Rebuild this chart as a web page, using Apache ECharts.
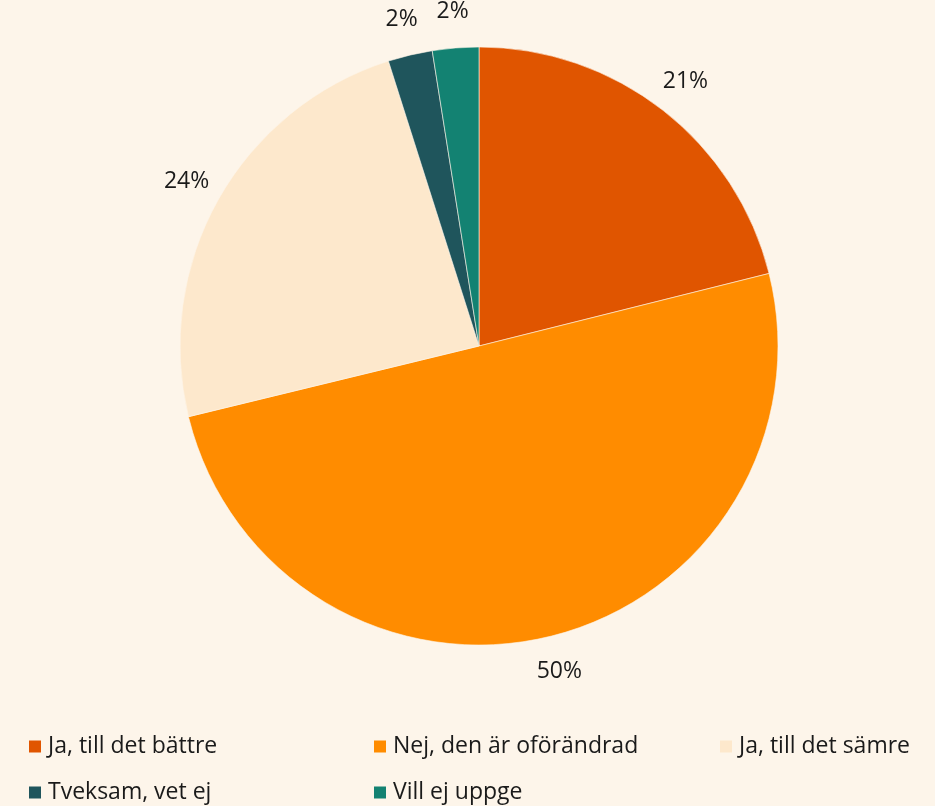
<!DOCTYPE html>
<html><head><meta charset="utf-8">
<script src="https://cdn.jsdelivr.net/npm/echarts@6/dist/echarts.min.js"></script>
<style>html,body{margin:0;padding:0;background:#FDF5EA;}#c{width:935px;height:806px;}</style>
</head><body><div id="c"></div>
<script>
const categories = ['Ja, till det bättre', 'Nej, den är oförändrad', 'Ja, till det sämre', 'Tveksam, vet ej', 'Vill ej uppge'];
const values = [21.1, 50.1, 23.9, 2.4, 2.5];
const labels = ['21%', '50%', '24%', '2%', '2%'];
const colors = ['#E05500', '#FF8C00', '#FDE8CC', '#1F555C', '#138272'];

const chart = echarts.init(document.getElementById('c'), null, {renderer: 'canvas'});
const font = '"Open Sans", Lato, sans-serif';
const pieData = categories.map((n, i) => ({name: n, value: values[i], itemStyle: {color: colors[i]}}));
const labelData = categories.map((n, i) => ({name: n, value: values[i], label: {formatter: labels[i]}}));
const legendPos = [[27, 735], [372, 735], [718, 735], [27, 781], [372, 781]];
const legends = categories.map((n, i) => ({
  left: legendPos[i][0], top: legendPos[i][1], padding: 0,
  icon: 'rect', itemWidth: 14, itemHeight: 14, selectedMode: false,
  textStyle: {fontFamily: font, fontSize: 23, color: '#1a1a1a', padding: [0, 0, 0, 1]},
  data: [n]
}));
chart.setOption({
  backgroundColor: '#FDF5EA',
  animation: false,
  legend: legends,
  series: [
    {
      type: 'pie', center: [479, 346], radius: 299, startAngle: 90, clockwise: true,
      label: {show: false}, labelLine: {show: false},
      itemStyle: {borderColor: '#FDF5EA', borderWidth: 0.6},
      emphasis: {disabled: true},
      data: pieData
    },
    {
      type: 'pie', center: [479, 346], radius: [299, 366], startAngle: 90, clockwise: true,
      silent: true, legendHoverLink: false,
      itemStyle: {color: 'rgba(0,0,0,0)'},
      label: {show: true, position: 'inside', fontFamily: font, fontSize: 23, color: '#1a1a1a'},
      labelLine: {show: false},
      emphasis: {disabled: true},
      data: labelData
    }
  ]
});
</script></body></html>
